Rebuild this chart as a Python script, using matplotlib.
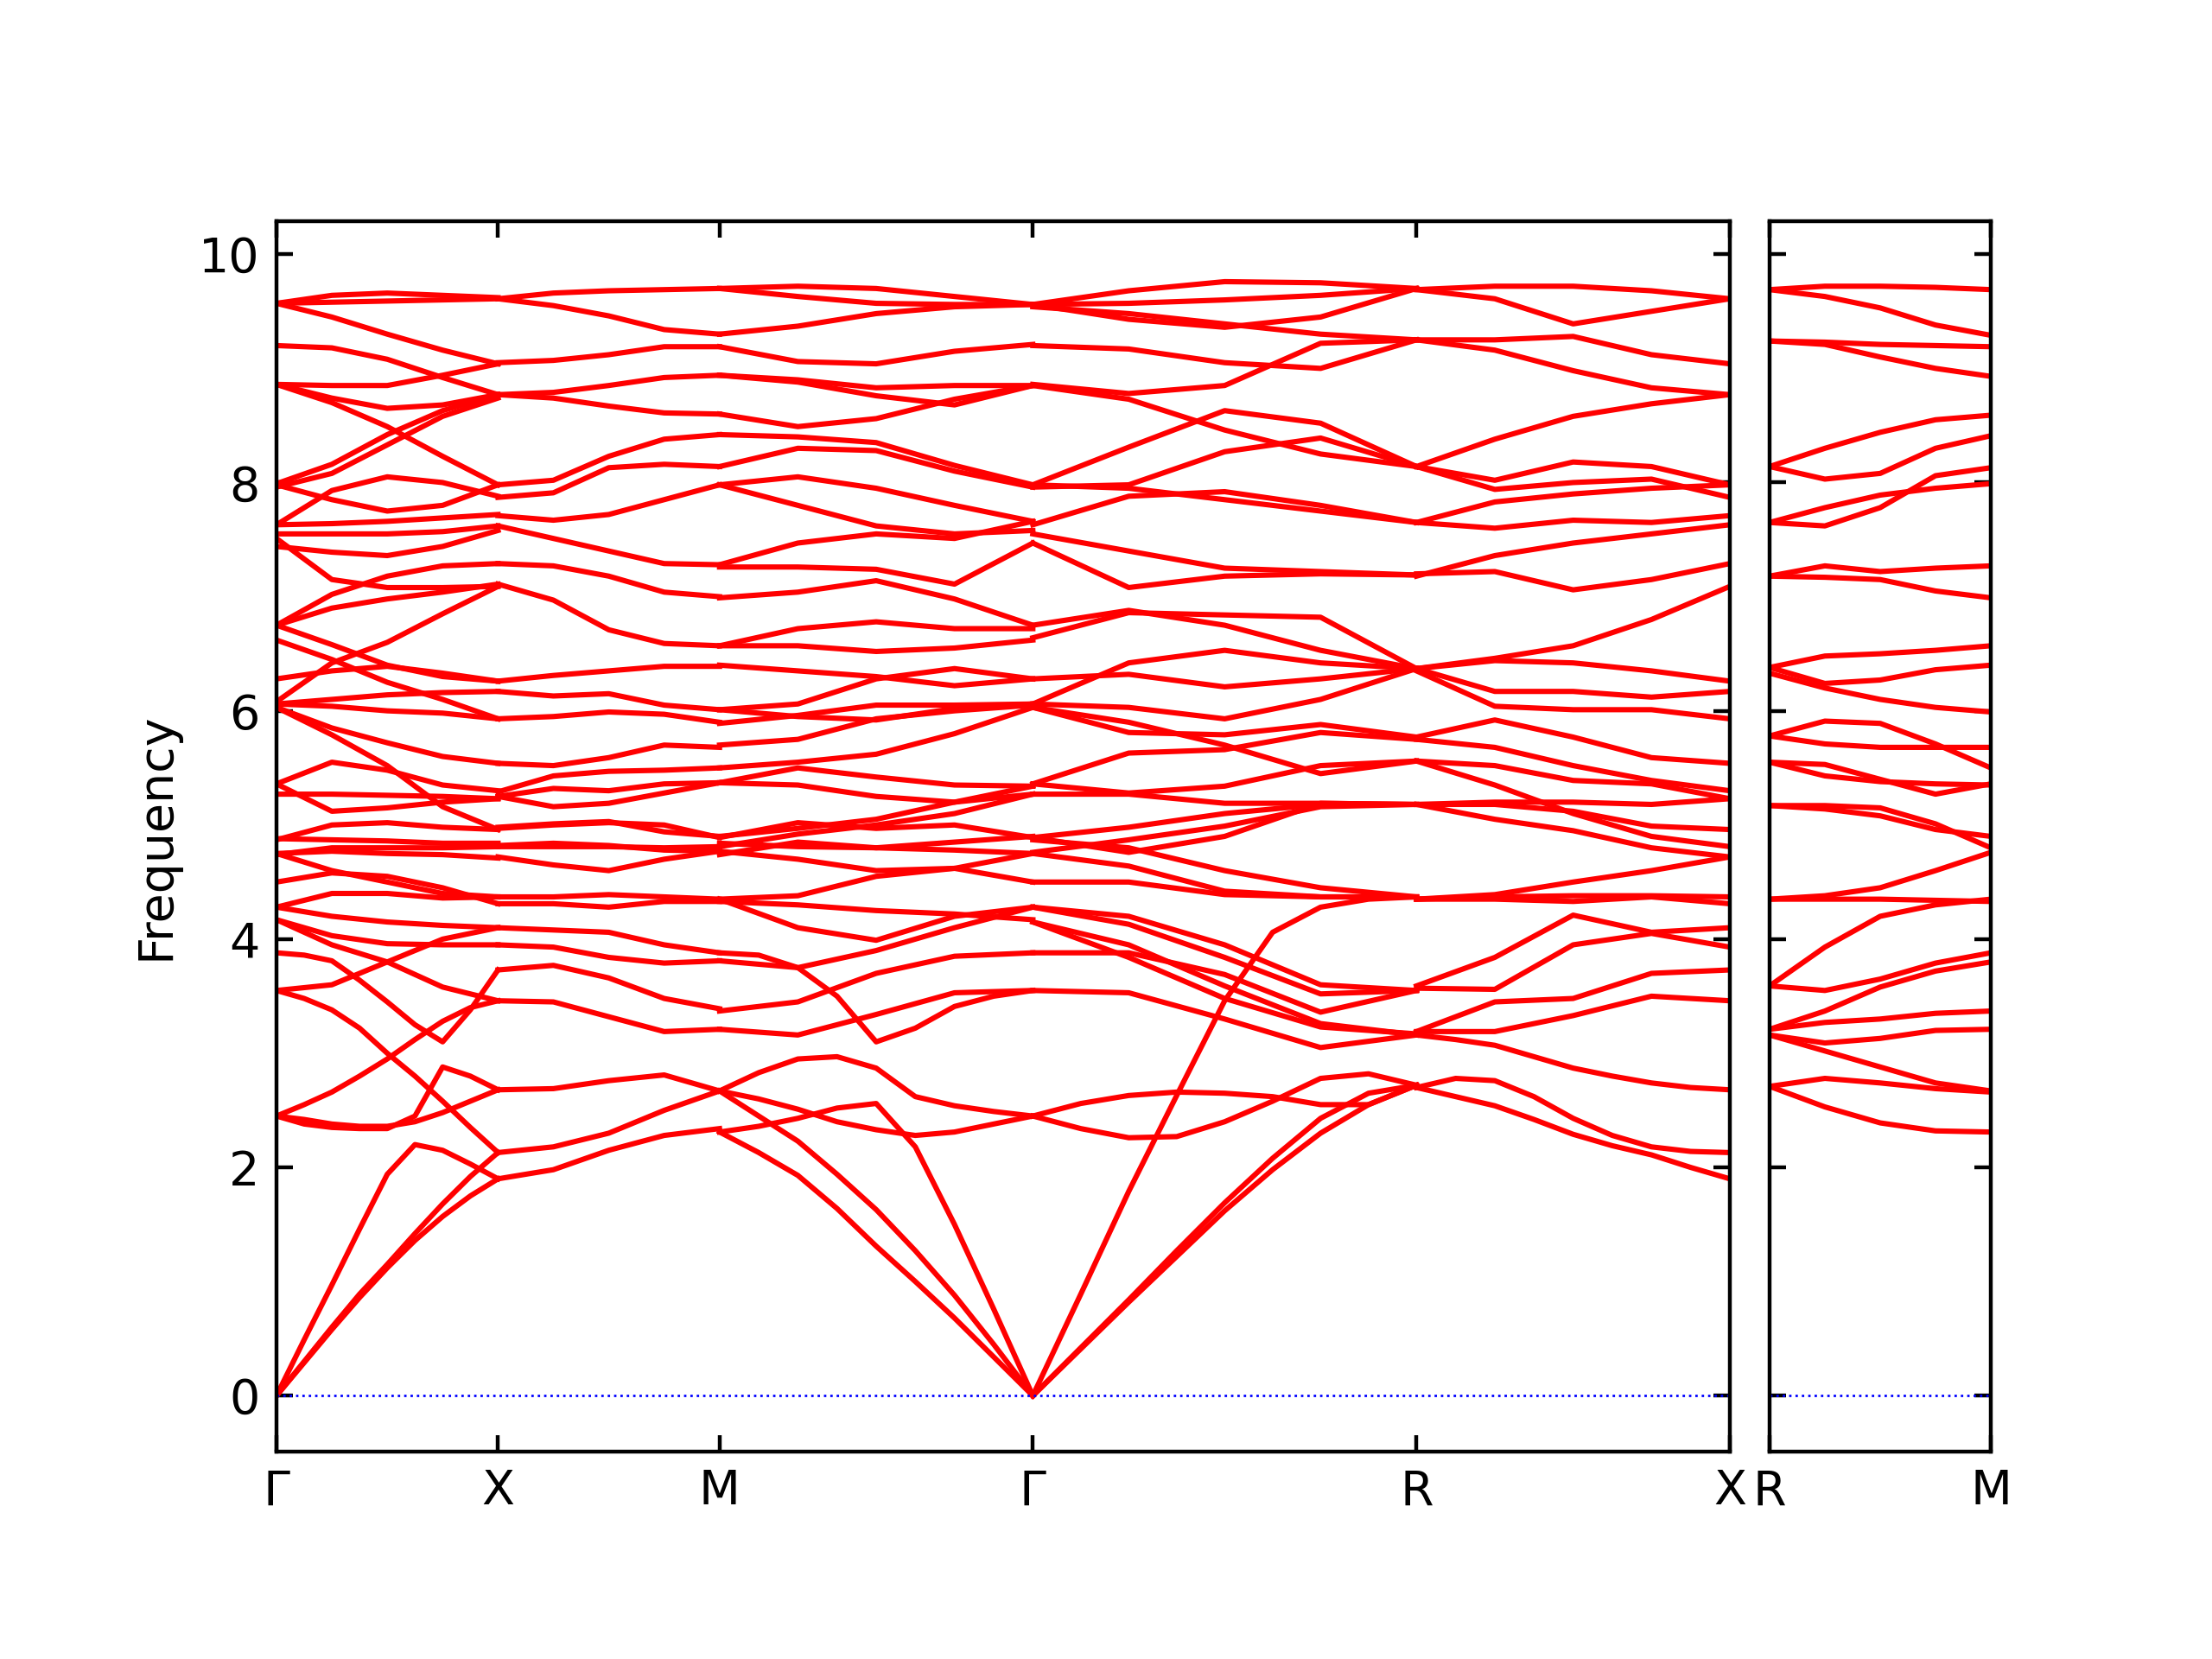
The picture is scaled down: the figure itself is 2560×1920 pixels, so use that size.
import numpy as np
import matplotlib.pyplot as plt

# high-symmetry path
labels_main = ['Γ', 'X', 'M', 'Γ', 'R', 'X']
labels_side = ['R', 'M']
seg_len_main = [0.5, 0.5, 0.7071, 0.8660, 0.7071]
seg_len_side = [0.5]

# frequencies read at equally spaced points along every segment
# (5 points for the flat bands, 9 for the more curved low ones)
gx_bands = [
    [9.57, 9.64, 9.66, 9.64, 9.62], [9.57, 9.58, 9.59, 9.60, 9.61],
    [9.57, 9.45, 9.30, 9.16, 9.04], [9.20, 9.18, 9.08, 8.92, 8.77],
    [8.86, 8.85, 8.85, 8.94, 9.04], [8.86, 8.74, 8.65, 8.68, 8.77],
    [8.86, 8.70, 8.49, 8.23, 7.98], [7.99, 8.16, 8.42, 8.63, 8.77],
    [7.96, 8.08, 8.33, 8.58, 8.74], [7.63, 7.93, 8.05, 8.00, 7.88],
    [7.98, 7.85, 7.75, 7.80, 7.98], [7.63, 7.64, 7.66, 7.69, 7.72],
    [7.55, 7.55, 7.55, 7.57, 7.62], [7.44, 7.39, 7.36, 7.44, 7.58],
    [7.51, 7.15, 7.08, 7.08, 7.09], [6.75, 7.02, 7.18, 7.27, 7.29],
    [6.75, 6.90, 6.98, 7.04, 7.11], [6.75, 6.58, 6.40, 6.30, 6.26],
    [6.62, 6.45, 6.25, 6.10, 5.93], [6.28, 6.35, 6.39, 6.33, 6.26],
    [6.06, 6.10, 6.14, 6.16, 6.17], [6.06, 6.04, 6.00, 5.98, 5.93],
    [6.08, 6.42, 6.60, 6.85, 7.09], [6.03, 5.79, 5.52, 5.16, 4.96],
    [6.03, 5.85, 5.72, 5.60, 5.54], [5.36, 5.55, 5.48, 5.35, 5.30],
    [5.36, 5.12, 5.15, 5.20, 5.23], [5.27, 5.27, 5.26, 5.25, 5.23],
    [4.87, 5.00, 5.02, 4.98, 4.96], [4.74, 4.80, 4.80, 4.80, 4.81],
    [4.88, 4.87, 4.86, 4.84, 4.84], [4.75, 4.77, 4.75, 4.74, 4.71],
    [4.75, 4.60, 4.50, 4.40, 4.37], [4.50, 4.58, 4.55, 4.45, 4.31],
    [4.28, 4.40, 4.40, 4.36, 4.37], [4.28, 4.20, 4.15, 4.12, 4.10],
    [4.17, 4.03, 3.96, 3.95, 3.95], [4.17, 3.95, 3.80, 3.58, 3.46],
    [3.55, 3.60, 3.80, 4.00, 4.10],
    [3.88, 3.86, 3.81, 3.64, 3.45, 3.25, 3.10, 3.38, 3.73],
    [3.55, 3.48, 3.38, 3.22, 3.00, 2.80, 2.58, 2.35, 2.13],
    [2.45, 2.55, 2.66, 2.80, 2.95, 3.12, 3.28, 3.40, 3.46],
    [2.45, 2.38, 2.35, 2.34, 2.34, 2.45, 2.88, 2.80, 2.68],
    [2.45, 2.42, 2.38, 2.36, 2.36, 2.40, 2.48, 2.58, 2.68],
    [0.00, 0.49, 0.97, 1.46, 1.94, 2.20, 2.15, 2.03, 1.90],
    [0.00, 0.30, 0.60, 0.89, 1.15, 1.42, 1.68, 1.92, 2.13],
    [0.00, 0.29, 0.58, 0.86, 1.12, 1.36, 1.57, 1.75, 1.90],
]

xm_bands = [
    [9.61, 9.66, 9.68, 9.69, 9.70], [9.61, 9.55, 9.46, 9.34, 9.30],
    [9.05, 9.07, 9.12, 9.19, 9.19], [8.77, 8.79, 8.85, 8.92, 8.94],
    [8.77, 8.74, 8.67, 8.61, 8.60], [7.98, 8.02, 8.23, 8.38, 8.42],
    [7.87, 7.91, 8.13, 8.16, 8.14], [7.71, 7.67, 7.72, 7.85, 7.98],
    [7.62, 7.51, 7.40, 7.29, 7.28], [7.29, 7.27, 7.18, 7.04, 7.00],
    [7.11, 6.97, 6.71, 6.59, 6.57], [6.26, 6.31, 6.35, 6.39, 6.39],
    [6.17, 6.13, 6.15, 6.05, 6.01], [5.93, 5.95, 5.99, 5.97, 5.90],
    [5.54, 5.52, 5.59, 5.70, 5.68], [5.29, 5.43, 5.47, 5.48, 5.50],
    [5.25, 5.32, 5.30, 5.36, 5.37], [5.25, 5.16, 5.19, 5.28, 5.37],
    [4.98, 5.01, 5.03, 4.94, 4.90], [4.81, 4.81, 4.81, 4.80, 4.81],
    [4.97, 5.00, 5.02, 5.00, 4.89], [4.82, 4.84, 4.82, 4.78, 4.77],
    [4.72, 4.65, 4.60, 4.70, 4.77], [4.37, 4.37, 4.39, 4.37, 4.35],
    [4.31, 4.31, 4.28, 4.33, 4.33], [4.10, 4.08, 4.06, 3.95, 3.88],
    [3.95, 3.93, 3.84, 3.79, 3.81], [3.73, 3.77, 3.66, 3.48, 3.39],
    [3.46, 3.45, 3.32, 3.19, 3.21], [2.68, 2.69, 2.76, 2.81, 2.67],
    [2.13, 2.18, 2.30, 2.50, 2.67], [1.90, 1.98, 2.15, 2.28, 2.34],
]

mg_bands = [
    [9.70, 9.72, 9.70, 9.63, 9.56], [9.70, 9.63, 9.57, 9.56, 9.56],
    [9.30, 9.37, 9.48, 9.54, 9.56], [9.19, 9.06, 9.04, 9.15, 9.21],
    [8.94, 8.90, 8.83, 8.85, 8.85], [8.94, 8.88, 8.76, 8.68, 8.85],
    [8.60, 8.49, 8.56, 8.73, 8.85], [8.42, 8.40, 8.35, 8.15, 7.98],
    [8.14, 8.30, 8.28, 8.10, 7.96], [7.98, 8.05, 7.95, 7.80, 7.66],
    [7.98, 7.80, 7.62, 7.55, 7.58], [7.28, 7.47, 7.55, 7.51, 7.66],
    [7.26, 7.26, 7.24, 7.11, 7.47], [6.99, 7.04, 7.14, 6.98, 6.75],
    [6.57, 6.72, 6.78, 6.72, 6.72], [6.57, 6.57, 6.52, 6.55, 6.62],
    [6.40, 6.35, 6.30, 6.22, 6.28], [6.01, 6.06, 6.28, 6.37, 6.28],
    [6.01, 5.95, 5.92, 6.02, 6.06], [5.89, 5.96, 6.05, 6.05, 6.06],
    [5.70, 5.75, 5.93, 6.00, 6.05], [5.50, 5.55, 5.62, 5.80, 6.03],
    [5.37, 5.50, 5.42, 5.35, 5.34], [5.37, 5.35, 5.25, 5.20, 5.27],
    [4.90, 4.97, 5.05, 5.20, 5.34], [4.81, 4.92, 5.00, 5.10, 5.27],
    [4.89, 5.02, 4.97, 5.00, 4.89], [4.84, 4.81, 4.80, 4.78, 4.75],
    [4.74, 4.85, 4.80, 4.85, 4.90], [4.77, 4.70, 4.60, 4.62, 4.75],
    [4.35, 4.38, 4.55, 4.62, 4.50], [4.35, 4.10, 3.99, 4.20, 4.28],
    [4.33, 4.30, 4.25, 4.22, 4.17], [3.81, 3.75, 3.90, 4.10, 4.28],
    [3.37, 3.45, 3.70, 3.85, 3.88], [3.21, 3.16, 3.34, 3.53, 3.55],
    [3.88, 3.86, 3.75, 3.50, 3.10, 3.22, 3.41, 3.50, 3.55],
    [2.67, 2.83, 2.95, 2.97, 2.87, 2.62, 2.54, 2.49, 2.45],
    [2.67, 2.60, 2.51, 2.40, 2.33, 2.28, 2.31, 2.38, 2.45],
    [2.31, 2.36, 2.43, 2.52, 2.56, 2.18, 1.50, 0.76, 0.00],
    [2.67, 2.45, 2.23, 1.94, 1.63, 1.27, 0.88, 0.45, 0.00],
    [2.31, 2.13, 1.93, 1.64, 1.31, 1.00, 0.68, 0.34, 0.00],
]

gr_bands = [
    [9.56, 9.68, 9.76, 9.75, 9.70], [9.56, 9.57, 9.60, 9.64, 9.70],
    [9.56, 9.43, 9.36, 9.45, 9.70], [9.54, 9.48, 9.39, 9.30, 9.25],
    [9.20, 9.17, 9.05, 9.00, 9.25], [8.86, 8.78, 8.85, 9.22, 9.25],
    [8.85, 8.73, 8.46, 8.25, 8.14], [7.98, 8.31, 8.63, 8.52, 8.14],
    [7.96, 7.98, 8.27, 8.39, 8.14], [7.98, 7.95, 7.85, 7.75, 7.65],
    [7.63, 7.88, 7.92, 7.80, 7.65], [7.55, 7.40, 7.25, 7.22, 7.19],
    [7.47, 7.08, 7.18, 7.20, 7.19], [6.75, 6.88, 6.75, 6.53, 6.37],
    [6.64, 6.86, 6.84, 6.82, 6.37], [6.28, 6.32, 6.21, 6.28, 6.37],
    [6.06, 6.03, 5.93, 6.10, 6.37], [6.03, 5.81, 5.79, 5.88, 5.77],
    [6.06, 6.42, 6.53, 6.42, 6.37], [6.03, 5.90, 5.70, 5.45, 5.56],
    [5.36, 5.63, 5.66, 5.81, 5.75], [5.36, 5.28, 5.34, 5.52, 5.56],
    [5.27, 5.27, 5.19, 5.19, 5.18], [4.89, 4.98, 5.10, 5.18, 5.18],
    [4.76, 4.87, 4.99, 5.16, 5.18], [4.89, 4.76, 4.90, 5.19, 5.18],
    [4.87, 4.80, 4.60, 4.45, 4.37], [4.75, 4.64, 4.42, 4.37, 4.37],
    [4.50, 4.50, 4.39, 4.37, 4.37], [4.28, 4.13, 3.84, 3.52, 3.55],
    [4.28, 4.20, 3.95, 3.60, 3.55], [4.15, 3.84, 3.48, 3.23, 3.17],
    [4.15, 3.95, 3.59, 3.26, 3.16], [3.88, 3.88, 3.69, 3.36, 3.55],
    [3.55, 3.53, 3.30, 3.05, 3.16],
    [2.45, 2.34, 2.26, 2.27, 2.40, 2.58, 2.78, 2.82, 2.72],
    [2.45, 2.56, 2.63, 2.66, 2.65, 2.62, 2.55, 2.55, 2.72],
    [0.00, 0.89, 1.79, 2.63, 3.46, 4.06, 4.28, 4.35, 4.37],
    [0.00, 0.42, 0.84, 1.27, 1.69, 2.08, 2.43, 2.65, 2.72],
    [0.00, 0.41, 0.82, 1.22, 1.62, 1.98, 2.30, 2.55, 2.72],
]

rx_bands = [
    [9.69, 9.72, 9.72, 9.68, 9.61], [9.69, 9.61, 9.39, 9.50, 9.61],
    [9.25, 9.25, 9.28, 9.12, 9.04], [9.25, 9.16, 8.98, 8.83, 8.77],
    [8.14, 8.38, 8.58, 8.69, 8.77], [8.14, 8.02, 8.18, 8.14, 7.98],
    [8.14, 7.94, 8.00, 8.03, 7.87], [7.65, 7.83, 7.90, 7.95, 7.98],
    [7.65, 7.60, 7.67, 7.65, 7.71], [7.20, 7.22, 7.06, 7.15, 7.29],
    [7.18, 7.36, 7.47, 7.55, 7.63], [6.37, 6.46, 6.57, 6.80, 7.09],
    [6.37, 6.44, 6.42, 6.35, 6.26], [6.37, 6.17, 6.17, 6.12, 6.17],
    [6.35, 6.04, 6.01, 6.01, 5.93], [5.77, 5.92, 5.77, 5.59, 5.54],
    [5.75, 5.68, 5.52, 5.39, 5.30], [5.56, 5.52, 5.39, 5.36, 5.23],
    [5.56, 5.35, 5.10, 4.90, 4.81], [5.18, 5.18, 5.12, 4.99, 4.96],
    [5.18, 5.20, 5.20, 5.18, 5.23], [5.18, 5.05, 4.95, 4.80, 4.72],
    [4.35, 4.39, 4.50, 4.60, 4.72], [4.35, 4.35, 4.33, 4.37, 4.31],
    [4.35, 4.37, 4.38, 4.38, 4.37], [3.59, 3.84, 4.21, 4.06, 4.10],
    [3.57, 3.56, 3.95, 4.05, 3.93], [3.19, 3.45, 3.48, 3.70, 3.73],
    [3.19, 3.19, 3.33, 3.50, 3.46],
    [3.16, 3.12, 3.07, 2.97, 2.87, 2.80, 2.74, 2.70, 2.68],
    [2.70, 2.78, 2.76, 2.62, 2.43, 2.28, 2.18, 2.14, 2.13],
    [2.70, 2.62, 2.54, 2.42, 2.29, 2.19, 2.11, 2.00, 1.90],
]

rm_bands = [
    [9.69, 9.72, 9.72, 9.71, 9.69], [9.69, 9.63, 9.53, 9.38, 9.29],
    [9.24, 9.23, 9.21, 9.20, 9.19], [9.24, 9.21, 9.10, 9.00, 8.93],
    [8.14, 8.30, 8.44, 8.55, 8.59], [8.14, 8.03, 8.08, 8.30, 8.41],
    [7.65, 7.78, 7.89, 7.95, 7.99], [7.65, 7.62, 7.78, 8.06, 8.13],
    [7.18, 7.27, 7.22, 7.25, 7.27], [7.18, 7.17, 7.15, 7.05, 6.99],
    [6.38, 6.48, 6.50, 6.53, 6.57], [6.38, 6.24, 6.27, 6.36, 6.40],
    [6.33, 6.20, 6.10, 6.03, 5.99], [5.78, 5.91, 5.89, 5.71, 5.50],
    [5.78, 5.71, 5.68, 5.68, 5.68], [5.55, 5.53, 5.40, 5.27, 5.36],
    [5.55, 5.43, 5.38, 5.36, 5.35], [5.17, 5.17, 5.15, 5.01, 4.80],
    [5.17, 5.14, 5.08, 4.96, 4.90], [4.35, 4.35, 4.35, 4.34, 4.33],
    [4.35, 4.38, 4.45, 4.60, 4.76], [3.59, 3.93, 4.20, 4.30, 4.35],
    [3.59, 3.55, 3.65, 3.79, 3.88], [3.21, 3.37, 3.58, 3.72, 3.80],
    [3.21, 3.27, 3.30, 3.35, 3.37], [3.16, 3.09, 3.13, 3.20, 3.21],
    [3.16, 3.02, 2.88, 2.74, 2.67], [2.71, 2.78, 2.74, 2.69, 2.66],
    [2.71, 2.53, 2.39, 2.32, 2.31],
]


def draw_path(ax, segments, lengths, labels):
    start = 0.0
    ticks = [0.0]
    for bands, length in zip(segments, lengths):
        for f in bands:
            q = start + length * np.linspace(0, 1, len(f))
            ax.plot(q, f, 'r-', linewidth=1.1)
        start += length
        ticks.append(start)
    ax.axhline(y=0, linestyle=':', linewidth=0.5, color='b')
    ax.set_xlim(0, start)
    ax.set_ylim(-0.49, 10.29)
    ax.set_xticks(ticks)
    ax.set_xticklabels(labels)
    ax.set_yticks([0, 2, 4, 6, 8, 10])
    ax.tick_params(axis='both', direction='in', top=True, right=True)


fig = plt.figure(figsize=(6.4, 4.8), dpi=400)
ax1 = fig.add_axes([0.125, 0.125, 0.657, 0.7417])
ax2 = fig.add_axes([0.8, 0.125, 0.1, 0.7417])

draw_path(ax1, [gx_bands, xm_bands, mg_bands, gr_bands, rx_bands],
          seg_len_main, labels_main)
draw_path(ax2, [rm_bands], seg_len_side, labels_side)
ax2.tick_params(labelleft=False)
ax1.set_ylabel('Frequency')

fig.savefig('out.png', dpi=400)
